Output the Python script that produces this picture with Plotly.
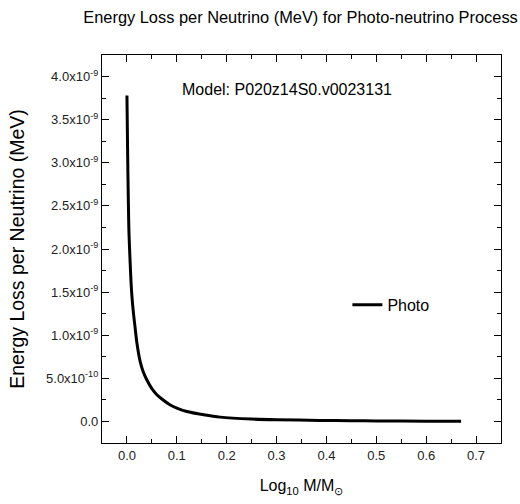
import plotly.graph_objects as go

# Data
log_mass = [0.0, 0.001, 0.002, 0.003, 0.004, 0.006, 0.008, 0.010, 0.013, 0.0167, 0.020,
            0.0267, 0.033, 0.040, 0.050, 0.060, 0.070, 0.087, 0.100, 0.120, 0.154, 0.187,
            0.250, 0.300, 0.387, 0.450, 0.500, 0.600, 0.670]
energy_loss = [3.78e-9, 3.30e-9, 2.85e-9, 2.50e-9, 2.20e-9, 1.90e-9, 1.64e-9, 1.45e-9,
               1.26e-9, 1.07e-9, 0.91e-9, 0.69e-9, 0.57e-9, 0.48e-9, 0.38e-9, 0.31e-9,
               0.26e-9, 0.19e-9, 0.155e-9, 0.116e-9, 0.078e-9, 0.050e-9, 0.028e-9,
               0.020e-9, 0.012e-9, 0.008e-9, 0.006e-9, 0.003e-9, 0.002e-9]

y_tick_vals = [0, 5e-10, 1e-9, 1.5e-9, 2e-9, 2.5e-9, 3e-9, 3.5e-9, 4e-9]
y_tick_text = ["0.0", "5.0x10<sup>-10</sup>", "1.0x10<sup>-9</sup>", "1.5x10<sup>-9</sup>",
               "2.0x10<sup>-9</sup>", "2.5x10<sup>-9</sup>", "3.0x10<sup>-9</sup>",
               "3.5x10<sup>-9</sup>", "4.0x10<sup>-9</sup>"]

FONT = "Liberation Sans, Arial, sans-serif"

fig = go.Figure()
fig.add_trace(go.Scatter(
    x=log_mass, y=energy_loss, mode="lines", name="Photo",
    line=dict(color="black", width=3, shape="spline", smoothing=0.7),
))

axis_common = dict(
    showline=True, linecolor="black", linewidth=1.3, mirror="ticks",
    ticks="inside", ticklen=7, tickwidth=1.2, tickcolor="black",
    showgrid=False, zeroline=False,
    tickfont=dict(family=FONT, size=13, color="#222"),
)

fig.update_layout(
    width=520, height=504,
    margin=dict(l=102, r=19, t=55, b=61),
    paper_bgcolor="white", plot_bgcolor="white",
    font=dict(family=FONT, color="black"),
    title=dict(text="Energy Loss per Neutrino (MeV) for Photo-neutrino Process",
               x=0.578, xanchor="center", y=0.966, yanchor="middle",
               font=dict(family=FONT, size=16.4, color="black")),
    showlegend=True,
    legend=dict(x=0.615, y=0.356, xanchor="left", yanchor="middle",
                bgcolor="rgba(0,0,0,0)", font=dict(family=FONT, size=16, color="black")),
    xaxis=dict(range=[-0.05, 0.75], dtick=0.1, tick0=0, tickformat=".1f",
               minor=dict(ticks="inside", ticklen=4, dtick=0.05, tick0=0, tickcolor="black"),
               title=dict(text="Log<sub>10</sub> M/M<sub>⊙</sub>",
                          font=dict(family=FONT, size=16, color="black"), standoff=18),
               **axis_common),
    yaxis=dict(range=[-2.5e-10, 4.25e-9], tickvals=y_tick_vals, ticktext=y_tick_text,
               minor=dict(ticks="inside", ticklen=4, dtick=2.5e-10, tick0=0, tickcolor="black"),
               title=dict(text="Energy Loss per Neutrino (MeV)",
                          font=dict(family=FONT, size=19.5, color="black"), standoff=16),
               **axis_common),
    annotations=[dict(text="Model: P020z14S0.v0023131", xref="paper", yref="paper",
                      x=(180 - 102) / 399, y=(443 - 89) / 388, xanchor="left", yanchor="middle",
                      showarrow=False, font=dict(family=FONT, size=16, color="black"))],
)

fig.write_html("out.html")
